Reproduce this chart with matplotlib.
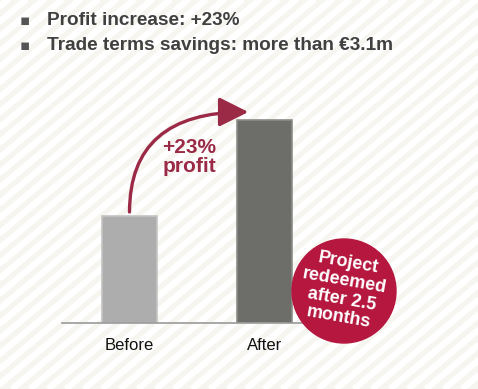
import numpy as np
import matplotlib
matplotlib.use('Agg')
import matplotlib.pyplot as plt
from matplotlib.patches import Circle

plt.rcParams['font.family'] = ['Liberation Sans', 'DejaVu Sans']

# data
categories = ['Before', 'After']
values = [107, 203]
bar_colors = ['#adadad', '#6d6e69']
edge_colors = ['#c4c4c4', '#8c8c88']
bullets = ['Profit increase: +23%', 'Trade terms savings: more than \u20ac3.1m']
gain_label = '+23%\nprofit'
badge_label = 'Project\nredeemed\nafter 2.5\nmonths'

W, H = 478, 389
fig = plt.figure(figsize=(W / 100, H / 100), dpi=100)

# background with diagonal stripes (pixel coords, y downwards)
bg = fig.add_axes([0, 0, 1, 1], zorder=0)
bg.set_xlim(0, W)
bg.set_ylim(H, 0)
bg.axis('off')
bg.add_patch(plt.Rectangle((0, 0), W, H, color='#f6f5f0', zorder=0))
slope = np.tan(np.radians(40))
for x0 in np.arange(-600, W + 600, 18):
    bg.plot([x0, x0 + 600], [H, H - 600 * slope], color='white', lw=4.6,
            solid_capstyle='butt', zorder=1)

# bar chart
left, right, base, top = 62, 320, 323, 100
ax = fig.add_axes([left / W, (H - base) / H, (right - left) / W, (base - top) / H], zorder=1)
ax.patch.set_alpha(0)
x = np.arange(len(categories))
ax.bar(x, values, width=0.407, color=bar_colors, edgecolor=edge_colors, linewidth=1.2)
ax.set_xlim(-0.5, 1.411)
ax.set_ylim(0, base - top)
for s in ['top', 'right', 'left']:
    ax.spines[s].set_visible(False)
ax.spines['bottom'].set_color('#9a9a9a')
ax.spines['bottom'].set_linewidth(1.2)
ax.set_yticks([])
ax.set_xticks(x)
ax.set_xticklabels(categories, fontsize=12, color='#111111')
ax.tick_params(axis='x', length=0, pad=11)

# curved arrow
ax.annotate('', xy=(0.88, values[1] + 8), xytext=(0, values[0] + 4),
            arrowprops=dict(arrowstyle='-|>,head_length=0.9,head_width=0.45',
                            mutation_scale=20, color='#9b2a46', lw=2.4,
                            connectionstyle='angle3,angleA=90,angleB=0',
                            shrinkA=0, shrinkB=0))
ax.text(0.242, values[0] + 59, gain_label, fontsize=15, fontweight='bold',
        color='#9b2a46', ha='left', va='center', linespacing=1.05)

# overlay: bullets and badge
ov = fig.add_axes([0, 0, 1, 1], zorder=2)
ov.set_xlim(0, W)
ov.set_ylim(H, 0)
ov.axis('off')
for i, t in enumerate(bullets):
    y = 20 + 25 * i
    ov.text(20, y, '\u25aa', fontsize=11, color='#555555', va='center', ha='left',
            family=['DejaVu Sans'])
    ov.text(47, y, t, fontsize=13.7, fontweight='bold', color='#404040',
            va='center', ha='left')

ov.add_patch(Circle((344, 291), 52, color='#b5173f', zorder=3))
ov.text(343, 290, badge_label, fontsize=13, fontweight='bold', color='white',
        ha='center', va='center', rotation=-10, linespacing=1.12, zorder=4,
        rotation_mode='anchor')

fig.savefig('out.png', dpi=100)
